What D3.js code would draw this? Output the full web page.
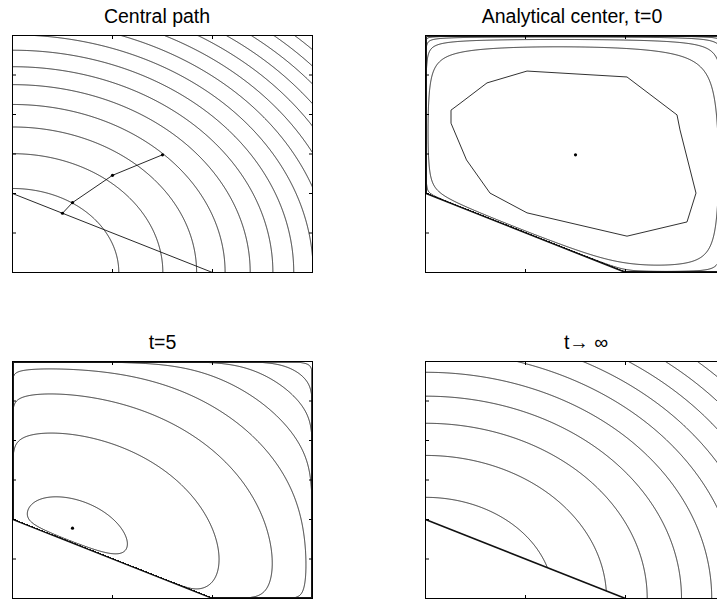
<!DOCTYPE html>
<html>
<head>
<meta charset="utf-8">
<script src="https://cdn.jsdelivr.net/npm/d3@7"></script>
<style>
body { margin: 0; background: #fff; }
</style>
</head>
<body>
<div id="chart"></div>
<script>
// axis range shared by all four panels
var xDomain = [0, 3];
var yDomain = [0, 6];
var xTicks = [0, 1, 2, 3];
var yTicks = [0, 1, 2, 3, 4, 5, 6];

// linear constraint x + y >= 2, drawn between these points
var cutX = [0, 2];
var cutY = [2, 0];

// objective (x/ax)^2 + (y/ay)^2, semi axes of the level-1 ellipse
var objAxes = [1.063, 2.127];

// log barrier weights for x>=0, x<=3, y>=0, y<=6, x+y>=2
var barrierW = [1, 1.584, 1, 2.168, 0.973];
// weight of the objective in the t=5 panel
var tWeight = 3.42;

// contour levels of each panel
var levelsPath = [1, 2, 3, 4, 5, 6, 7, 8, 9, 10, 11, 12, 13, 14, 15];
var levelsCenter = [-1.7, 0.5, 2.7, 4.9, 7.1, 9.3];
var levelsT5 = [1.3, 9.5, 17.7, 25.9, 34.1, 42.3, 50.5, 58.7];
var levelsInf = [1.45, 2.9, 4.35, 5.8, 7.25, 8.7, 10.15, 11.6, 13.05, 14.5, 15.95];

// innermost (coarse, polygonal) contour around the analytic center, traced
var innerX = [0.255, 0.345, 0.615, 1.015, 2.015, 2.515, 2.545, 2.705, 2.615, 2.015, 1.015, 0.645, 0.41, 0.255];
var innerY = [4.11, 4.28, 4.80, 5.10, 4.95, 3.99, 3.61, 2.01, 1.28, 0.92, 1.51, 2.01, 2.85, 3.78];

// central path points (analytic center -> optimum)
var pathX = [1.5, 1.0, 0.6, 0.5];
var pathY = [2.98, 2.46, 1.77, 1.5];
var centerX = [1.5], centerY = [2.98];
var t5X = [0.6], t5Y = [1.78];

var titles = ["Central path", "Analytical center, t=0", "t=5", "t\u2192 \u221e"];

var svgWidth = 717;
var svgHeight = 602;
var boxW = 300, boxH = 237;
var lefts = [12.5, 425.5];
var tops = [35.5, 361.5];

var svg = d3.select("#chart")
    .append("svg")
    .attr("width", svgWidth)
    .attr("height", svgHeight)
    .style("font-family", "'Liberation Sans', Arial, sans-serif");

svg.append("rect").attr("width", svgWidth).attr("height", svgHeight).attr("fill", "#fff");

function objective(x, y) {
    return Math.pow(x / objAxes[0], 2) + Math.pow(y / objAxes[1], 2);
}

function barrier(x, y) {
    var s = [x - xDomain[0], xDomain[1] - x, y - yDomain[0], yDomain[1] - y, x + y - 2];
    var v = 0;
    for (var i = 0; i < s.length; i++) {
        if (s[i] <= 0) return 1e4;
        v -= barrierW[i] * Math.log(s[i]);
    }
    return v;
}

function makePanel(k) {
    var left = lefts[k % 2], top = tops[Math.floor(k / 2)];
    var x = d3.scaleLinear().domain(xDomain).range([left, left + boxW]);
    var y = d3.scaleLinear().domain(yDomain).range([top + boxH, top]);
    var g = svg.append("g");
    var clipId = "clip" + k;
    svg.append("clipPath").attr("id", clipId)
        .append("rect")
        .attr("x", left).attr("y", top).attr("width", boxW).attr("height", boxH);
    var inner = g.append("g").attr("clip-path", "url(#" + clipId + ")");
    return {g: g, inner: inner, x: x, y: y, left: left, top: top};
}

// contour a function sampled on an nx by ny grid over the domain
function drawContours(p, fn, levels, nx, ny) {
    var dx = (xDomain[1] - xDomain[0]) / (nx - 1);
    var dy = (yDomain[1] - yDomain[0]) / (ny - 1);
    var values = new Array(nx * ny);
    for (var j = 0; j < ny; j++) {
        for (var i = 0; i < nx; i++) {
            values[i + j * nx] = fn(xDomain[0] + i * dx, yDomain[1] - j * dy);
        }
    }
    var contours = d3.contours().size([nx, ny]).thresholds(levels)(values);
    var proj = d3.geoTransform({
        point: function(px, py) {
            this.stream.point(p.x(xDomain[0] + (px - 0.5) * dx), p.y(yDomain[1] - (py - 0.5) * dy));
        }
    });
    var path = d3.geoPath(proj);
    p.inner.append("g")
        .selectAll("path")
        .data(contours)
        .join("path")
        .attr("d", path)
        .attr("fill", "none")
        .attr("stroke", "#1a1a1a")
        .attr("stroke-width", 0.9);
}

function drawCut(p, w) {
    p.inner.append("line")
        .attr("x1", p.x(cutX[0])).attr("y1", p.y(cutY[0]))
        .attr("x2", p.x(cutX[1])).attr("y2", p.y(cutY[1]))
        .attr("stroke", "#111")
        .attr("stroke-width", w);
}

function drawAxes(p, title, titleX) {
    p.g.append("rect")
        .attr("x", p.left).attr("y", p.top)
        .attr("width", boxW).attr("height", boxH)
        .attr("fill", "none").attr("stroke", "#000").attr("stroke-width", 1);
    var tl = 3.5;
    xTicks.forEach(function(t) {
        p.g.append("line").attr("x1", p.x(t)).attr("x2", p.x(t))
            .attr("y1", p.top + boxH).attr("y2", p.top + boxH - tl).attr("stroke", "#000");
        p.g.append("line").attr("x1", p.x(t)).attr("x2", p.x(t))
            .attr("y1", p.top).attr("y2", p.top + tl).attr("stroke", "#000");
    });
    yTicks.forEach(function(t) {
        p.g.append("line").attr("y1", p.y(t)).attr("y2", p.y(t))
            .attr("x1", p.left).attr("x2", p.left + tl).attr("stroke", "#000");
        p.g.append("line").attr("y1", p.y(t)).attr("y2", p.y(t))
            .attr("x1", p.left + boxW).attr("x2", p.left + boxW - tl).attr("stroke", "#000");
    });
    p.g.append("text")
        .attr("x", titleX == null ? p.left + boxW / 2 : titleX)
        .attr("y", p.top - 13)
        .attr("text-anchor", "middle")
        .attr("font-size", 19.5)
        .attr("fill", "#000")
        .text(title);
}

function drawDots(p, xs, ys) {
    p.inner.selectAll("circle.d" + xs.length)
        .data(xs)
        .enter()
        .append("circle")
        .attr("cx", function(d) { return p.x(d); })
        .attr("cy", function(d, i) { return p.y(ys[i]); })
        .attr("r", 1.6)
        .attr("fill", "#000");
}

var nx = 301, ny = 238;

// panel 1: central path
var p1 = makePanel(0);
drawContours(p1, objective, levelsPath, nx, ny);
drawCut(p1, 0.9);
p1.inner.append("path")
    .datum(pathX)
    .attr("d", d3.line()
        .x(function(d) { return p1.x(d); })
        .y(function(d, i) { return p1.y(pathY[i]); }))
    .attr("fill", "none")
    .attr("stroke", "#111")
    .attr("stroke-width", 0.9);
drawDots(p1, pathX, pathY);
drawAxes(p1, titles[0], 157);

// panel 2: analytic center
var p2 = makePanel(1);
p2.inner.append("path")
    .datum(innerX)
    .attr("d", d3.line()
        .x(function(d) { return p2.x(d); })
        .y(function(d, i) { return p2.y(innerY[i]); })
        .curve(d3.curveLinearClosed))
    .attr("fill", "none")
    .attr("stroke", "#1a1a1a")
    .attr("stroke-width", 0.9);
drawContours(p2, barrier, levelsCenter, nx, ny);
drawCut(p2, 1.3);
drawDots(p2, centerX, centerY);
drawAxes(p2, titles[1], 572);

// panel 3: t = 5
var p3 = makePanel(2);
drawContours(p3, function(x, y) { return tWeight * objective(x, y) + barrier(x, y); }, levelsT5, nx, ny);
drawCut(p3, 1.3);
drawDots(p3, t5X, t5Y);
drawAxes(p3, titles[2]);

// panel 4: t -> infinity, objective over the feasible set only
var p4 = makePanel(3);
var feas = [[0, 2], [0, 6], [3, 6], [3, 0], [2, 0]];
svg.append("clipPath").attr("id", "feas")
    .append("polygon")
    .attr("points", feas.map(function(d) { return p4.x(d[0]) + "," + p4.y(d[1]); }).join(" "));
var p4c = {g: p4.g, inner: p4.inner.append("g").attr("clip-path", "url(#feas)"), x: p4.x, y: p4.y};
drawContours(p4c, objective, levelsInf, nx, ny);
drawCut(p4, 1.6);
drawAxes(p4, titles[3], 586);
</script>
</body>
</html>
